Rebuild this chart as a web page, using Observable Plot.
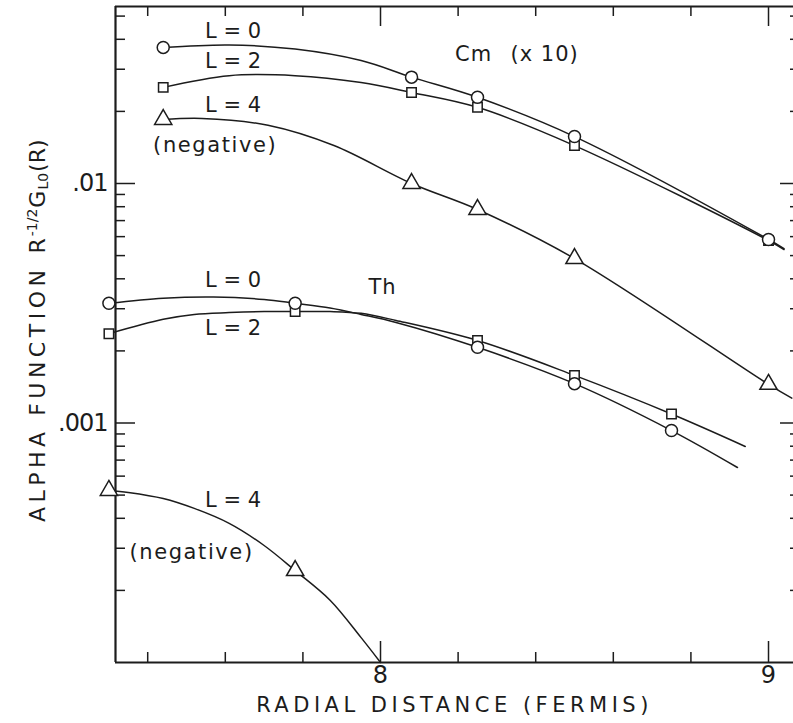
<!DOCTYPE html>
<html>
<head>
<meta charset="utf-8">
<script src="https://cdn.jsdelivr.net/npm/d3@7"></script>
<script src="https://cdn.jsdelivr.net/npm/@observablehq/plot@0.6"></script>
<style>
  html, body { margin: 0; padding: 0; background: #fff; overflow: hidden; }
  #chart svg { display: block; }
</style>
</head>
<body>
<div id="chart"></div>
<script>
// ---------- data (x = radial distance in fermis, y = alpha function) ----------
// Cm (x10) curves
const cmL0Markers = [[7.44, 0.0370], [8.08, 0.0278], [8.25, 0.0229], [8.50, 0.0157], [9.00, 0.00584]];
const cmL0Curve   = [[7.44, 0.0370], [7.61, 0.0379], [7.78, 0.0364], [7.95, 0.0326], [8.08, 0.0278],
                     [8.25, 0.0229], [8.50, 0.0157], [9.00, 0.00584], [9.04, 0.00535]];
const cmL2Markers = [[7.44, 0.0252], [8.08, 0.0240], [8.25, 0.0208], [8.50, 0.0144], [9.00, 0.00578]];
const cmL2Curve   = [[7.44, 0.0252], [7.61, 0.0282], [7.78, 0.0282], [7.95, 0.0264], [8.08, 0.0240],
                     [8.25, 0.0208], [8.50, 0.0144], [9.00, 0.00578], [9.04, 0.00530]];
const cmL4Markers = [[7.44, 0.0185], [8.08, 0.0100], [8.25, 0.00779], [8.50, 0.00486], [9.00, 0.00145]];
const cmL4Curve   = [[7.44, 0.0185], [7.54, 0.0187], [7.71, 0.0175], [7.88, 0.0144], [8.08, 0.0100],
                     [8.25, 0.00779], [8.50, 0.00486], [9.00, 0.00145], [9.06, 0.00127]];
// Th curves
const thL0Markers = [[7.30, 0.00316], [7.78, 0.00316], [8.25, 0.00207], [8.50, 0.00146], [8.75, 0.00093]];
const thL0Curve   = [[7.30, 0.00316], [7.44, 0.00332], [7.57, 0.00336], [7.70, 0.00328], [7.78, 0.00316],
                     [7.87, 0.00302], [7.95, 0.00284], [8.04, 0.00263], [8.25, 0.00207], [8.50, 0.00146],
                     [8.75, 0.00093], [8.92, 0.000652]];
const thL2Markers = [[7.30, 0.00236], [7.78, 0.00292], [8.25, 0.00221], [8.50, 0.00158], [8.75, 0.00109]];
const thL2Curve   = [[7.30, 0.00236], [7.44, 0.00271], [7.52, 0.00284], [7.61, 0.00289], [7.70, 0.00292],
                     [7.78, 0.00292], [7.87, 0.00292], [7.95, 0.00287], [8.04, 0.00268], [8.25, 0.00221],
                     [8.50, 0.00158], [8.75, 0.00109], [8.94, 0.000798]];
const thL4Markers = [[7.30, 0.000523], [7.78, 0.000242]];
const thL4Curve   = [[7.30, 0.000523], [7.35, 0.000513], [7.44, 0.000484], [7.52, 0.000440], [7.61, 0.000381],
                     [7.70, 0.000308], [7.78, 0.000242], [7.87, 0.000182], [7.95, 0.000127], [8.00, 0.000100]];

// annotations (in data coordinates)
const labelTexts = ["L = 0", "L = 2", "L = 4", "(negative)", "Cm", "(x 10)", "L = 0", "Th", "L = 2", "L = 4", "(negative)"];
const labelX     = [7.62, 7.62, 7.62, 7.574, 8.24, 8.423, 7.62, 8.005, 7.62, 7.62, 7.513];
const labelY     = [0.0433, 0.0323, 0.0213, 0.0144, 0.0346, 0.0346, 0.00394, 0.00368, 0.00248, 0.000475, 0.000288];

// axes
const xDomain = [7.317, 9.0644];
const yDomain = [0.0001, 0.05483];
const xMinorTicks = [7.4, 7.6, 7.8, 8.2, 8.4, 8.6, 8.8];
const xMajorTicks = [8, 9];
const xTickLabels = ["8", "9"];
const yMajorTicks = [0.01, 0.001];
const yTickLabels = [".01", ".001"];
const yMinorTicks = [0.0002, 0.0003, 0.0004, 0.0005, 0.0006, 0.0007, 0.0008, 0.0009,
                     0.002, 0.003, 0.004, 0.005, 0.006, 0.007, 0.008, 0.009,
                     0.02, 0.03, 0.04, 0.05];
const xTitle = "RADIAL DISTANCE (FERMIS)";

// ---------- layout ----------
const W = 793, H = 723;
const mL = 115, mT = 6, mB = 61, mR = 0;
const innerW = W - mL - mR, innerH = H - mT - mB;
const INK = "#1c1c1c";

const lineOpts = {x: d => d[0], y: d => d[1], curve: "catmull-rom", stroke: INK, strokeWidth: 1.5};
const dotOpts = (symbol, r) => ({x: d => d[0], y: d => d[1], symbol, r, fill: "white", stroke: INK, strokeWidth: 1.5});

const chart = Plot.plot({
  width: W, height: H,
  marginLeft: mL, marginRight: mR, marginTop: mT, marginBottom: mB,
  x: {type: "linear", domain: xDomain, axis: null},
  y: {type: "log", domain: yDomain, axis: null},
  style: {fontFamily: "DejaVu Sans", background: "#fff", color: INK},
  marks: [
    // ticks (inward)
    Plot.tickX(xMinorTicks, {x: d => d, insetTop: innerH - 10, stroke: INK, strokeWidth: 1.5}),
    Plot.tickX(xMinorTicks, {x: d => d, insetBottom: innerH - 10, stroke: INK, strokeWidth: 1.5}),
    Plot.tickX(xMajorTicks, {x: d => d, insetTop: innerH - 21, stroke: INK, strokeWidth: 1.5}),
    Plot.tickX(xMajorTicks, {x: d => d, insetBottom: innerH - 20, stroke: INK, strokeWidth: 1.5}),
    Plot.tickY(yMinorTicks, {y: d => d, insetRight: innerW - 10, stroke: INK, strokeWidth: 1.5}),
    Plot.tickY(yMinorTicks, {y: d => d, insetLeft: innerW - 3, stroke: INK, strokeWidth: 1.5}),
    Plot.tickY(yMajorTicks, {y: d => d, insetRight: innerW - 20, stroke: INK, strokeWidth: 1.5}),
    Plot.tickY(yMajorTicks, {y: d => d, insetLeft: innerW - 13, stroke: INK, strokeWidth: 1.5}),
    // frame (left, top, bottom)
    Plot.ruleX([xDomain[0]], {stroke: INK, strokeWidth: 2.2}),
    Plot.ruleY(yDomain, {stroke: INK, strokeWidth: 2.2}),
    // tick labels
    Plot.text(xMajorTicks, {x: d => d, text: (d, i) => xTickLabels[i], frameAnchor: "bottom", dy: 20.5, fontSize: 24, fill: INK}),
    Plot.text(yMajorTicks, {y: d => d, text: (d, i) => yTickLabels[i], frameAnchor: "left", dx: -8, textAnchor: "end", fontSize: 24, fill: INK}),
    Plot.text([xTitle], {text: d => d, frameAnchor: "bottom", dy: 49.5, fontSize: 21, fill: INK}),
    // curves
    Plot.line(cmL0Curve, lineOpts),
    Plot.line(cmL2Curve, lineOpts),
    Plot.line(cmL4Curve, lineOpts),
    Plot.line(thL0Curve, lineOpts),
    Plot.line(thL2Curve, lineOpts),
    Plot.line(thL4Curve, lineOpts),
    // markers
    Plot.dot(cmL2Markers, dotOpts("square", 5.3)),
    Plot.dot(cmL0Markers, dotOpts("circle", 6)),
    Plot.dot(cmL4Markers, dotOpts("triangle", 6.4)),
    Plot.dot(thL2Markers, dotOpts("square", 5.3)),
    Plot.dot(thL0Markers, dotOpts("circle", 6)),
    Plot.dot(thL4Markers, dotOpts("triangle", 6.4)),
    // annotations
    Plot.text(labelTexts, {x: (d, i) => labelX[i], y: (d, i) => labelY[i], text: d => d, fontSize: 21, fill: INK})
  ]
});

document.getElementById("chart").appendChild(chart);

// letter spacing tweaks
const svg = d3.select(chart);
svg.selectAll("text").each(function () {
  const t = this.textContent;
  let ls = null;
  if (t === xTitle) ls = "4.5px";
  else if (t === "(negative)") ls = "1.6px";
  else if (t === "(x 10)" || t === "Cm" || t === "Th") ls = "1px";
  else if (t === ".01" || t === ".001") ls = "-1px";
  if (ls) d3.select(this).attr("letter-spacing", ls);
});

// rotated y-axis title with super/subscripts
const yt = svg.append("text")
  .attr("transform", "translate(45,522) rotate(-90)")
  .attr("text-anchor", "start")
  .attr("fill", INK)
  .attr("font-family", "DejaVu Sans")
  .attr("font-size", 22);
yt.append("tspan").attr("letter-spacing", "4.5px").text("ALPHA FUNCTION");
yt.append("tspan").attr("dx", 12).attr("letter-spacing", "2px").text("R");
yt.append("tspan").attr("dy", -8).attr("font-size", 14).attr("letter-spacing", "0px").text("-1/2");
yt.append("tspan").attr("dy", 8).attr("dx", 1).attr("letter-spacing", "1px").text("G");
yt.append("tspan").attr("dy", 3).attr("font-size", 14).attr("letter-spacing", "0px").text("L0");
yt.append("tspan").attr("dy", -3).attr("dx", 1).attr("letter-spacing", "0px").text("(R)");
</script>
</body>
</html>
